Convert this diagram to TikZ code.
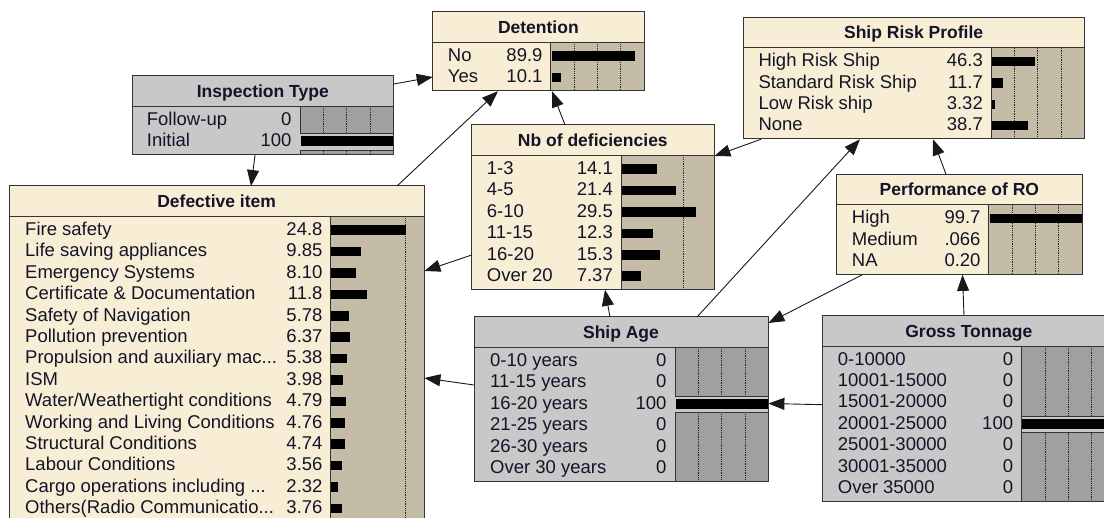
\documentclass[tikz,border=0pt]{standalone}
\usepackage{fontspec}
\setmainfont{Liberation Sans}
\usetikzlibrary{arrows.meta,calc}
\definecolor{nodecream}{RGB}{248,238,213}
\definecolor{bartan}{RGB}{197,188,168}
\definecolor{nodegray}{RGB}{200,200,200}
\definecolor{bargray}{RGB}{160,160,160}
\definecolor{inkcolor}{RGB}{20,20,40}

\begin{document}
\begin{tikzpicture}[x=1pt,y=-1pt]
  %%Styles for the boxes, the texts and the links
  \tikzset{bn frame/.style={draw=black!80,line width=1pt}}
  \tikzset{bn anchor/.style={inner sep=0pt,minimum size=0pt,anchor=north west}}
  \tikzset{bn title/.style={font=\fontsize{17.5}{20}\selectfont\bfseries,text=inkcolor,inner sep=0pt,anchor=base}}
  \tikzset{bn text/.style={font=\fontsize{18.5}{20}\selectfont,text=inkcolor,inner sep=0pt}}
  \tikzset{bar grid/.style={black!85,densely dotted,line width=0.8pt}}
  \tikzset{bn link/.style={draw,-{Triangle[length=16pt,width=12pt]},line width=0.9pt,color=black!90}}
  %%Size of the picture
  \useasboundingbox (0,0) rectangle (1104,518);
  \clip (0,0) rectangle (1104,518);
  %%Boxes: name/left/top/width/rows/divider/fill/bar fill/title/grid
  \foreach \nm/\x/\y/\w/\n/\d/\col/\bcol/\ttl/\grid in {
      det/432.7/12/211.3/2/118/nodecream/bartan/Detention/{23.3,46.6,69.9},
      nbdef/471.7/125/242.3/6/149.3/nodecream/bartan/Nb of deficiencies/{62.7},
      risk/743.3/17.3/340.7/4/247.7/nodecream/bartan/Ship Risk Profile/{23.3,46.6,69.9},
      perf/836.7/174.3/245.3/3/152/nodecream/bartan/Performance of RO/{23.3,46.6,69.9},
      insp/132.3/76/261/2/167.7/nodegray/bargray/Inspection Type/{23.3,46.6,69.9},
      defect/9.3/186/414.7/16/320.7/nodecream/bartan/Defective item/{75.8},
      age/474/317/294/6/201/nodegray/bargray/Ship Age/{23.3,46.6,69.9},
      gross/822.7/315.7/292.3/7/199/nodegray/bargray/Gross Tonnage/{23.3,46.6,69.9}}{
    \pgfmathsetmacro{\h}{36+21.4*\n}
    \node[bn anchor,fill=\col,minimum width=\w,minimum height=\h] (\nm) at (\x,\y) {};
    \fill[\bcol] (\x+\d,\y+30.5) rectangle (\x+\w,\y+\h);
    \foreach \g in \grid \draw[bar grid] (\x+\d+\g,\y+30.5) -- (\x+\d+\g,\y+\h);
    \draw[bn frame] (\x,\y) rectangle (\x+\w,\y+\h) (\x,\y+30.5) -- (\x+\w,\y+30.5)
      (\x+\d,\y+30.5) -- (\x+\d,\y+\h);
    \node[bn title] at (\x+\w/2,\y+21.5) {\ttl};
  }
  %%Detention
  \begin{scope}[shift={(det.north west)}]
    \foreach \lab/\val [count=\k from 0] in {No/89.9,Yes/10.1}{
      \node[bn text,anchor=base west] at (15,49.5+21.4*\k) {\lab};
      \node[bn text,anchor=base east] at (110,49.5+21.4*\k) {\val};
      \fill (119,39.5+21.4*\k) rectangle ++(0.93*\val,9.5);
    }
  \end{scope}
  %%Nb of deficiencies
  \begin{scope}[shift={(nbdef.north west)}]
    \foreach \lab/\val [count=\k from 0] in {1-3/14.1,4-5/21.4,6-10/29.5,11-15/12.3,16-20/15.3,Over 20/7.37}{
      \node[bn text,anchor=base west] at (15,49.5+21.4*\k) {\lab};
      \node[bn text,anchor=base east] at (141.3,49.5+21.4*\k) {\val};
      \fill (150.3,39.5+21.4*\k) rectangle ++(2.51*\val,9.5);
    }
  \end{scope}
  %%Ship Risk Profile
  \begin{scope}[shift={(risk.north west)}]
    \foreach \lab/\val [count=\k from 0] in {High Risk Ship/46.3,Standard Risk Ship/11.7,Low Risk ship/3.32,None/38.7}{
      \node[bn text,anchor=base west] at (15,49.5+21.4*\k) {\lab};
      \node[bn text,anchor=base east] at (239.7,49.5+21.4*\k) {\val};
      \fill (248.7,39.5+21.4*\k) rectangle ++(0.93*\val,9.5);
    }
  \end{scope}
  %%Performance of RO (bars below one pixel are not drawn)
  \begin{scope}[shift={(perf.north west)}]
    \foreach \lab/\val/\bar [count=\k from 0] in {High/99.7/99.7,Medium/.066/0,NA/0.20/0}{
      \node[bn text,anchor=base west] at (15,49.5+21.4*\k) {\lab};
      \node[bn text,anchor=base east] at (144,49.5+21.4*\k) {\val};
      \ifdim\bar pt>0pt \fill (153,39.5+21.4*\k) rectangle ++(0.93*\bar,9.5); \fi
    }
  \end{scope}
  %%Defective item
  \begin{scope}[shift={(defect.north west)}]
    \foreach \lab/\val [count=\k from 0] in {Fire safety/24.8,Life saving appliances/9.85,
        Emergency Systems/8.10,Certificate \& Documentation/11.8,Safety of Navigation/5.78,
        Pollution prevention/6.37,{Propulsion and auxiliary mac...}/5.38,ISM/3.98,
        {Water/Weathertight conditions}/4.79,Working and Living Conditions/4.76,
        Structural Conditions/4.74,Labour Conditions/3.56,{Cargo operations including ...}/2.32,
        {Others(Radio Communicatio...}/3.76}{
      \node[bn text,anchor=base west] at (15.7,49.5+21.4*\k) {\lab};
      \node[bn text,anchor=base east] at (313.4,49.5+21.4*\k) {\val};
      \fill (321.7,39.5+21.4*\k) rectangle ++(3.03*\val,9.5);
    }
  \end{scope}
  %%Inspection Type (finding on Initial)
  \begin{scope}[shift={(insp.north west)}]
    \foreach \lab/\val [count=\k from 0] in {Follow-up/0,Initial/100}{
      \node[bn text,anchor=base west] at (14.4,49.5+21.4*\k) {\lab};
      \node[bn text,anchor=base east] at (159.4,49.5+21.4*\k) {\val};
    }
    \fill[nodegray] (167.7,57.9) rectangle (261,74.4);
    \draw[bn frame,line width=0.8pt] (167.7,57.9) -- (261,57.9) (167.7,74.4) -- (261,74.4);
    \fill (168.2,60.4) rectangle (261,70.4);
  \end{scope}
  %%Ship Age (finding on 16-20 years)
  \begin{scope}[shift={(age.north west)}]
    \foreach \lab/\val [count=\k from 0] in {0-10 years/0,11-15 years/0,16-20 years/100,
        21-25 years/0,26-30 years/0,Over 30 years/0}{
      \node[bn text,anchor=base west] at (16,49.5+21.4*\k) {\lab};
      \node[bn text,anchor=base east] at (192.7,49.5+21.4*\k) {\val};
    }
    \fill[nodegray] (201,79.3) rectangle (294,95.8);
    \draw[bn frame,line width=0.8pt] (201,79.3) -- (294,79.3) (201,95.8) -- (294,95.8);
    \fill (201.5,81.8) rectangle (294,91.8);
  \end{scope}
  %%Gross Tonnage (finding on 20001-25000)
  \begin{scope}[shift={(gross.north west)}]
    \foreach \lab/\val [count=\k from 0] in {0-10000/0,10001-15000/0,15001-20000/0,20001-25000/100,
        25001-30000/0,30001-35000/0,Over 35000/0}{
      \node[bn text,anchor=base west] at (15,49.5+21.4*\k) {\lab};
      \node[bn text,anchor=base east] at (190.6,49.5+21.4*\k) {\val};
    }
    \fill[nodegray] (199,100.7) rectangle (292.3,117.2);
    \draw[bn frame,line width=0.8pt] (199,100.7) -- (292.3,100.7) (199,117.2) -- (292.3,117.2);
    \fill (199.5,103.2) rectangle (292.3,113.2);
  \end{scope}
  %%Drawing the links
  \path[bn link] ($(insp.north east)+(0,8)$) -- ($(det.north west)+(0,65)$);
  \path[bn link] ($(insp.south west)+(122.7,0)$) -- ($(defect.north west)+(241.7,0)$);
  \path[bn link] ($(defect.north west)+(387.7,0)$) -- ($(det.south west)+(65.3,0)$);
  \path[bn link] ($(nbdef.north west)+(93.3,0)$) -- ($(det.south west)+(119.3,0)$);
  \path[bn link] ($(nbdef.north west)+(0,130)$) -- ($(defect.north east)+(0,85)$);
  \path[bn link] ($(risk.south west)+(17.7,0)$) -- ($(nbdef.north east)+(0,31)$);
  \path[bn link] ($(age.north west)+(223,0)$) -- ($(risk.south west)+(116.7,0)$);
  \path[bn link] ($(perf.north west)+(109.3,0)$) -- ($(risk.south west)+(189.7,0)$);
  \path[bn link] ($(perf.south west)+(25.3,0)$) -- ($(age.north east)+(0,6)$);
  \path[bn link] ($(gross.north west)+(141.3,0)$) -- ($(perf.south west)+(125.8,0)$);
  \path[bn link] ($(gross.north west)+(0,89)$) -- ($(age.north east)+(0,86.5)$);
  \path[bn link] ($(age.north west)+(0,68)$) -- ($(defect.north east)+(0,192)$);
  \path[bn link] ($(age.north west)+(136,0)$) -- ($(nbdef.south west)+(133.3,0)$);
\end{tikzpicture}
\end{document}
